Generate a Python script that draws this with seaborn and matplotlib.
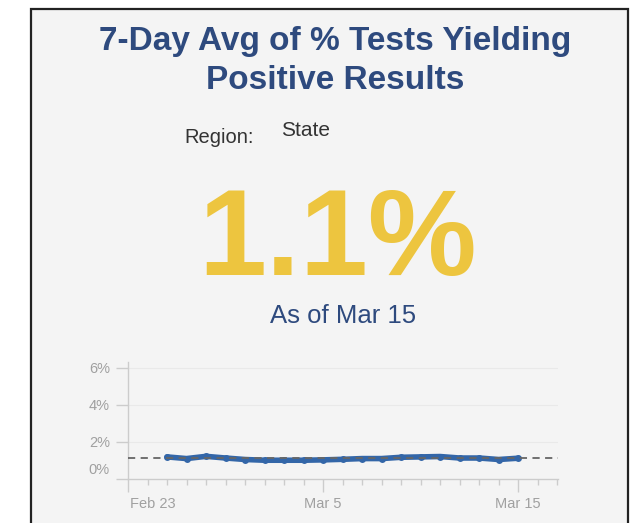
import matplotlib
matplotlib.use("Agg")
import matplotlib.pyplot as plt
import matplotlib.dates as mdates
import matplotlib.transforms as mtransforms
from matplotlib.patches import Rectangle
import seaborn as sns
import pandas as pd

sns.set_style("white")
plt.rcParams['font.family'] = ['Liberation Sans', 'DejaVu Sans']

# data
dates = pd.date_range("2021-02-25", "2021-03-15", freq="D")
pct_positive = [1.19, 1.10, 1.22, 1.13, 1.05, 1.01, 1.01, 1.01, 1.03, 1.06,
                1.10, 1.10, 1.17, 1.19, 1.21, 1.13, 1.13, 1.05, 1.12]
ref_level = 1.13
y_ticks = [0, 2, 4, 6]
y_labels = ["0%", "2%", "4%", "6%"]
x_ticks = pd.to_datetime(["2021-02-23", "2021-03-05", "2021-03-15"])
x_labels = ["Feb 23", "Mar 5", "Mar 15"]
headline = "1.1%"
as_of = "As of Mar 15"

df = pd.DataFrame({"date": dates, "pct": pct_positive})

card = "#f4f4f4"
navy = "#2e4a7e"
yellow = "#edc53f"
blue = "#3366a8"

fig = plt.figure(figsize=(6.4, 5.23), dpi=100)
fig.patch.set_facecolor("white")
fig.patches.append(Rectangle((31 / 640, -0.05), 597 / 640, 1.05 - 9 / 523,
                             transform=fig.transFigure, facecolor=card,
                             edgecolor="#222222", lw=1.6, zorder=-5))

fig.text(0.523, 0.9215, "7-Day Avg of % Tests Yielding", ha="center", va="center",
         fontsize=24, fontweight="bold", color=navy)
fig.text(0.523, 0.846, "Positive Results", ha="center", va="center",
         fontsize=24, fontweight="bold", color=navy)
fig.text(0.342, 0.738, "Region:", ha="center", va="center", fontsize=14.5, color="#333333")
fig.text(0.478, 0.750, "State", ha="center", va="center", fontsize=15, color="#333333")
fig.text(0.528, 0.4742, headline, ha="center", va="baseline", fontsize=88,
         fontweight="bold", color=yellow)
fig.text(0.536, 0.3824, as_of, ha="center", va="baseline", fontsize=18.5, color=navy)

ax = fig.add_axes([128 / 640, 1 - 479 / 523, 430 / 640, 117 / 523])
ax.set_facecolor(card)
ax.set_zorder(2)

for yv in y_ticks[1:]:
    ax.axhline(yv, color="#e9e9e9", lw=0.8, zorder=0)

sns.lineplot(data=df, x="date", y="pct", ax=ax, color=blue, lw=4,
             marker="o", markersize=5, markeredgewidth=0, zorder=2)
ax.axhline(ref_level, color="#666666", lw=1.3, ls=(0, (4, 3)), zorder=3)

ax.set_xlim(pd.Timestamp("2021-02-23"), pd.Timestamp("2021-03-17 01:00"))
ax.set_ylim(0, 6.3)
ax.set_yticks(y_ticks)
ax.set_yticklabels(y_labels)
ax.set_xticks(x_ticks)
ax.set_xticklabels(x_labels)
ax.xaxis.set_minor_locator(mdates.DayLocator())
ax.set_xlabel("")
ax.set_ylabel("")

for s in ["top", "right"]:
    ax.spines[s].set_visible(False)
for s in ["left", "bottom"]:
    ax.spines[s].set_color("#cccccc")
    ax.spines[s].set_linewidth(1.0)

ax.tick_params(axis="both", which="both", bottom=True, left=True)
ax.tick_params(axis="both", which="major", length=9, color="#cccccc",
               labelcolor="#a0a0a0", labelsize=10.5, width=1.0)
ax.tick_params(axis="x", which="minor", length=4, color="#cccccc", width=1.0)
ax.tick_params(axis="y", which="minor", left=False)
ax.tick_params(axis="x", which="major", pad=4)
ax.tick_params(axis="y", which="major", pad=4)

xl = ax.get_xticklabels()
xl[0].set_ha("left")
xl[0].set_transform(xl[0].get_transform() + mtransforms.ScaledTranslation(2 / 100, 0, fig.dpi_scale_trans))
yl = ax.get_yticklabels()
yl[0].set_transform(yl[0].get_transform() + mtransforms.ScaledTranslation(0, 11 / 100, fig.dpi_scale_trans))

fig.savefig("out.png", dpi=100)
